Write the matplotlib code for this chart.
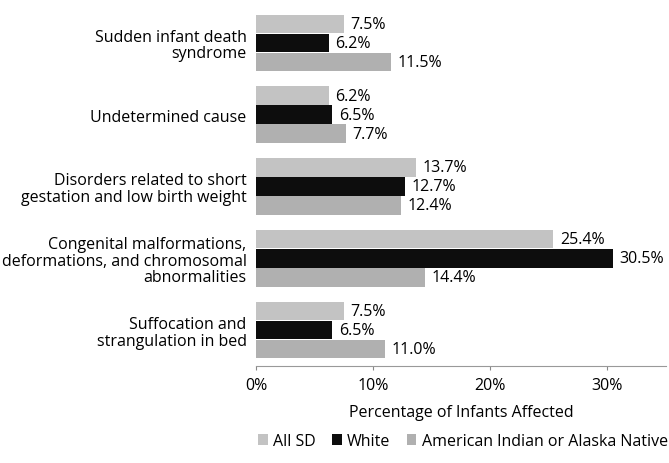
import matplotlib
matplotlib.use("Agg")
import matplotlib.pyplot as plt
import numpy as np
from matplotlib.ticker import FuncFormatter

categories = [
    "Sudden infant death\nsyndrome",
    "Undetermined cause",
    "Disorders related to short\ngestation and low birth weight",
    "Congenital malformations,\ndeformations, and chromosomal\nabnormalities",
    "Suffocation and\nstrangulation in bed",
]
series_names = ["All SD", "White", "American Indian or Alaska Native"]
all_sd = [7.5, 6.2, 13.7, 25.4, 7.5]
white = [6.2, 6.5, 12.7, 30.5, 6.5]
aian = [11.5, 7.7, 12.4, 14.4, 11.0]

colors = ["#c3c3c3", "#0d0d0d", "#b0b0b0"]

plt.rcParams["font.family"] = ["Open Sans", "DejaVu Sans"]
fs = 11.5

fig = plt.figure(figsize=(6.69, 4.64), dpi=100)
ax = fig.add_axes([0.383, 0.209, 0.612, 0.774])

n = len(categories)
bar_h = 0.265
y0 = np.arange(n) * 1.0
for k, (vals, col) in enumerate(zip([all_sd, white, aian], colors)):
    ys = y0 + (k - 1) * bar_h
    ax.barh(ys, vals, height=bar_h * 0.97, color=col, edgecolor="none",
            label=series_names[k])
    for y, v in zip(ys, vals):
        ax.text(v + 0.55, y, f"{v:.1f}%", va="center", ha="left", fontsize=fs)

ax.set_ylim(n - 1 + 0.5, -0.5)
ax.set_xlim(0, 35)
ax.set_xticks([0, 10, 20, 30])
ax.xaxis.set_major_formatter(FuncFormatter(lambda x, p: f"{x:.0f}%"))
ax.set_yticks(y0)
ax.set_yticklabels(categories, fontsize=fs, ha="right", multialignment="right",
                   linespacing=1.05)
ax.tick_params(axis="y", length=0, pad=7)
ax.tick_params(axis="x", length=3, color="#888888", labelsize=fs, pad=5)
for s in ["top", "right", "left"]:
    ax.spines[s].set_visible(False)
ax.spines["bottom"].set_color("#999999")
ax.spines["bottom"].set_linewidth(0.8)
ax.set_xlabel("Percentage of Infants Affected", fontsize=fs, labelpad=8)

fig.legend(*ax.get_legend_handles_labels(), loc="center",
           bbox_to_anchor=(0.692, 0.047), ncol=3, frameon=False,
           fontsize=fs, handlelength=0.6, handleheight=0.6, handletextpad=0.35,
           columnspacing=1.0)

fig.savefig("out.png", dpi=100)
